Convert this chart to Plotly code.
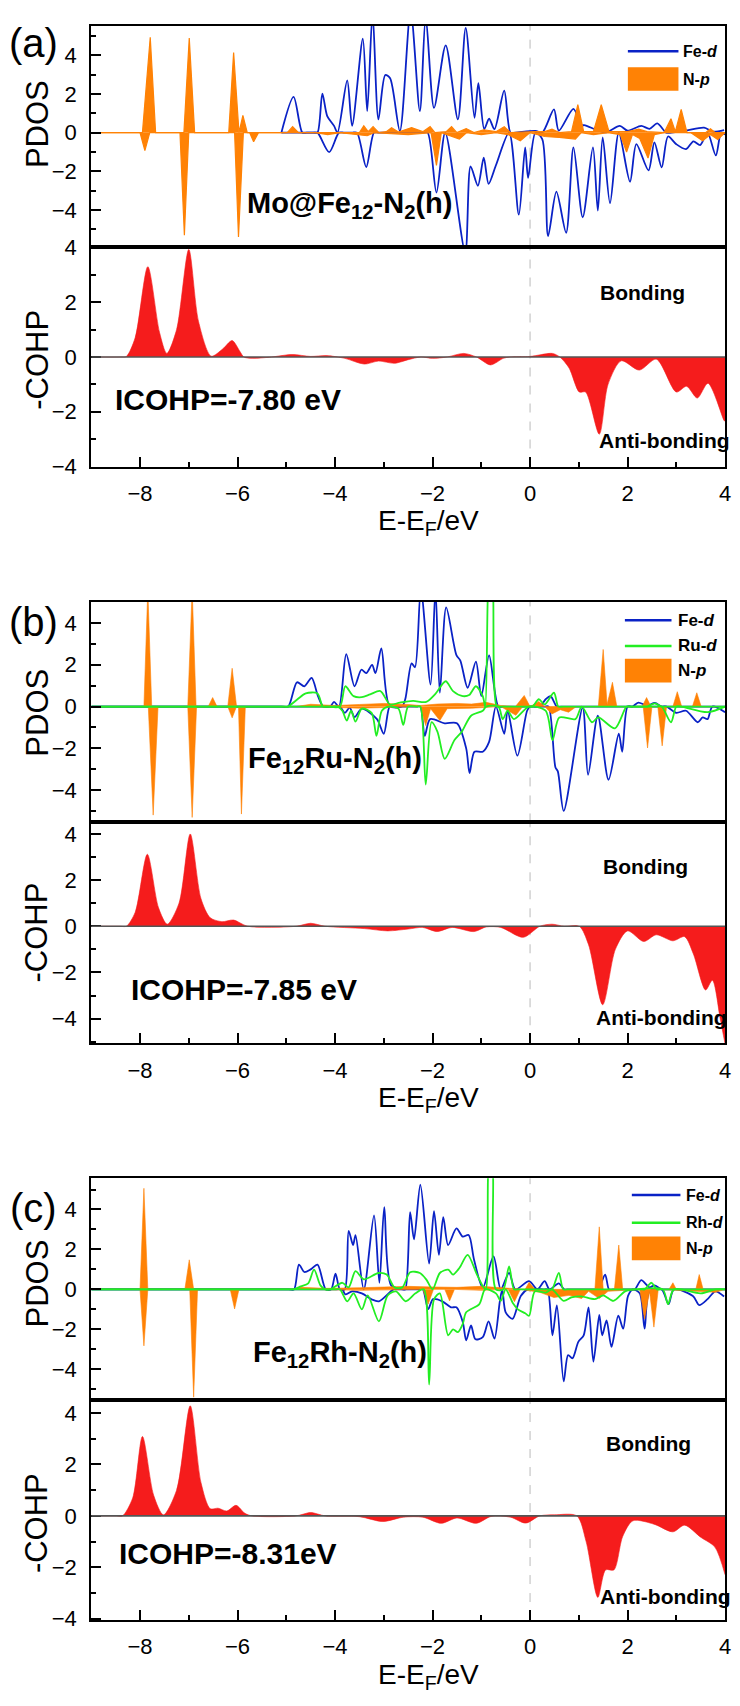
import plotly.graph_objects as go

W, H = 740, 1706
FONT = "Liberation Sans, Arial, sans-serif"
BLUE = "#0A22C6"
ORANGE = "#FF8205"
GREEN = "#22EE22"
RED = "#F51C1C"

# ---------------- data: panel (a) Mo@Fe12-N2(h) ----------------
a_fe_up_x = [-5.10,-4.85,-4.67,-4.58,-4.44,-4.36,-4.26,-4.16,-4.02,-3.95,-3.75,-3.65,-3.43,-3.34,-3.23,-3.11,-2.97,-2.87,-2.67,-2.45,-2.26,-2.14,-1.97,-1.73,-1.48,-1.32,-1.14,-1.06,-0.94,-0.84,-0.73,-0.53,-0.40,-0.30,0.11,0.25,0.49,0.59,0.89,1.05,1.13,1.54,1.84,2.00,2.28,2.45,2.61,2.79,2.90,3.20,3.57,3.75,3.98]
a_fe_up_y = [0,1.85,0,0,0,0,2.02,0.86,0.35,0,2.70,0.35,4.86,1.11,6.2,0.69,2.98,2.81,0.09,6.3,1.11,6.0,1.28,4.52,0.69,5.42,0.77,2.56,0.18,0.72,0.18,2.17,0.0,0.0,0.09,0,1.2,0.1,1.23,0.4,0.38,0.01,0.35,0.1,0.35,0.2,0.48,0,0,0.1,0.26,0.05,0.13]
a_fe_dn_x = [-5.10,-4.45,-4.36,-4.12,-3.92,-3.82,-3.65,-3.55,-3.36,-3.20,-3.10,-2.20,-2.10,-1.92,-1.74,-1.33,-1.22,-1.07,-0.95,-0.85,-0.70,-0.43,-0.23,-0.10,-0.04,0.11,0.25,0.37,0.54,0.74,0.89,1.08,1.29,1.39,1.49,1.64,1.82,2.05,2.18,2.43,2.55,2.70,2.83,3.00,3.20,3.35,3.49,3.64,3.81,3.92,4.00]
a_fe_dn_y = [0,0,0,-1.01,0,0,0,0,-1.78,0,0,0,0,-3.10,0,-6.2,-1.75,-2.75,-1.30,-2.65,-1.69,0,-4.24,-0.76,-2.34,0,-0.33,-5.35,-3.05,-5.18,-0.76,-4.38,-0.76,-4.04,-0.25,-3.65,0,-2.54,-0.59,-1.95,-0.5,-1.8,-0.2,-0.6,-0.85,-0.45,-0.64,0,-1.18,0,-0.1]
a_np_up_x = [-9,-7.95,-7.79,-7.68,-7.10,-6.99,-6.88,-6.18,-6.08,-5.97,-5.89,-5.80,-4.98,-4.87,-4.75,-3.50,-3.41,-3.32,-3.22,-3.10,-2.95,-2.84,-2.70,-2.43,-2.20,-2.05,-1.95,-1.72,-1.61,-1.50,-1.31,-1.15,-0.95,-0.70,-0.53,-0.40,0.10,0.30,0.45,0.60,0.85,0.98,1.10,1.30,1.46,1.62,2.00,2.23,2.40,2.75,2.89,2.98,3.10,3.22,3.60,3.70,3.80,4.00]
a_np_up_y = [0,0,4.94,0,0,4.89,0,0,4.14,0,0.89,0,0,0.31,0,0,0.35,0.05,0.31,0,0.05,0.25,0.03,0.26,0.05,0.31,0,0.05,0.31,0,0.21,0,0.15,0.05,0.31,0,0.05,0.05,0.18,0,0.05,1.45,0.05,0.05,1.45,0.05,0.05,0.18,0.05,0,0.72,0.05,1.2,0,0,0.2,0,0]
a_np_dn_x = [-9,-8.00,-7.90,-7.80,-7.18,-7.09,-7.00,-6.06,-5.98,-5.88,-5.75,-5.67,-5.57,-4.40,-4.15,-3.90,-3.34,-3.20,-2.50,-2.03,-1.92,-1.82,-1.45,-1.30,-1.00,-0.70,-0.45,-0.20,0.00,0.30,0.60,0.93,1.05,1.30,1.60,1.85,1.98,2.10,2.25,2.42,2.55,2.75,3.30,3.54,3.70,3.85,4.00]
a_np_dn_y = [0,0,-0.93,0,0,-5.31,0,0,-5.4,0,0,-0.47,0,0,-0.1,0,-0.16,0,-0.1,0,-1.69,0,-0.33,0,-0.1,0,-0.1,-0.42,0,-0.2,-0.25,-0.33,0,-0.1,0,-0.1,-1.01,-0.1,-0.3,-1.32,-0.1,0,0,-0.42,-0.1,-0.35,0]
a_cohp_x = [-9,-8.40,-8.28,-8.10,-7.84,-7.60,-7.45,-7.25,-7.00,-6.80,-6.54,-6.30,-6.11,-5.95,-5.87,-5.70,-5.30,-4.88,-4.50,-4.17,-3.80,-3.40,-3.11,-2.78,-2.50,-2.24,-2.00,-1.70,-1.36,-1.10,-0.81,-0.55,-0.41,0.00,0.46,0.61,0.80,1.01,1.14,1.42,1.60,1.87,2.24,2.59,3.00,3.21,3.43,3.65,3.98,4.00]
a_cohp_y = [0,0,0.02,0.7,3.30,0.9,0.13,1.0,3.93,1.3,0.03,0.3,0.60,0.2,0,-0.05,0,0.09,0.02,0.05,-0.05,-0.26,-0.15,-0.23,-0.1,0,-0.05,0,0.13,0,-0.29,-0.05,0,0.02,0.13,0,-0.4,-1.28,-1.28,-2.82,-1.0,-0.14,-0.48,-0.08,-1.28,-1.07,-1.50,-0.96,-2.32,-2.35]

# ---------------- data: panel (b) Fe12Ru-N2(h) ----------------
b_fe_up_x = [-9,-5.10,-4.96,-4.78,-4.63,-4.48,-4.35,-4.24,-4.10,-4.02,-3.92,-3.77,-3.60,-3.46,-3.36,-3.24,-3.17,-3.05,-2.88,-2.63,-2.56,-2.43,-2.36,-2.24,-2.04,-1.94,-1.85,-1.72,-1.51,-1.43,-1.28,-1.11,-1.00,-0.84,-0.65,-0.55,0.10,0.20,0.32,0.42,0.55,0.65,2.00,2.10,2.22,2.40,2.56,2.70,2.80,4.00]
b_fe_up_y = [0,0,0,1.16,0.97,1.37,0.5,0,0,0.22,0,2.51,0.97,1.76,1.60,1.99,1.60,2.78,0.03,0,0.35,2.07,1.88,5.6,1.05,5.6,0.66,4.74,2.46,2.20,0.90,2.15,0.50,2.45,0,0,0,0,0.35,0.5,0,0,0,0,0.19,0.05,0.17,0,0,0]
b_fe_dn_x = [-9,-4.00,-3.90,-3.80,-3.70,-3.60,-3.45,-3.14,-3.00,-2.88,-2.80,-2.32,-2.25,-2.16,-2.05,-1.75,-1.50,-1.31,-1.24,-1.14,-0.97,-0.84,-0.70,-0.53,-0.46,-0.26,-0.06,0.00,0.10,0.30,0.38,0.52,0.57,0.69,1.08,1.19,1.39,1.61,1.82,1.89,2.00,2.10,2.72,2.80,3.00,3.20,3.44,3.54,3.64,3.74,4.00]
b_fe_dn_y = [0,0,0,-0.3,-0.05,-0.5,-0.1,-0.6,-1.3,0,0,0,0,-1.4,-0.6,-0.8,-0.8,-2.0,-3.18,-2.16,-2.16,-1.69,0,-1.3,-0.2,-2.35,-0.2,0,0,0,0,-2.9,-3.1,-4.99,-0.05,-3.26,-0.44,-3.5,-1.3,-2.16,0,0,0,0,-0.3,-0.2,-0.75,-0.52,-0.6,0,-0.27]
b_ru_up_x = [-9,-5.10,-4.97,-4.77,-4.60,-4.36,-4.25,-4.15,-3.90,-3.79,-3.62,-3.45,-3.28,-3.07,-2.87,-2.67,-2.40,-2.13,-1.95,-1.73,-1.58,-1.38,-1.25,-1.11,-0.97,-0.92,-0.86,-0.81,-0.76,-0.68,-0.60,-0.02,0.05,0.18,0.30,0.49,0.58,0.68,2.30,2.40,2.56,2.70,2.80,4.00]
b_ru_up_y = [0,0,0,0.35,0.63,0.63,0,0,0,0.97,0.50,0.45,0.58,0.74,0.10,0.19,0.27,0.22,0.58,1.21,0.74,0.50,0.55,0.97,0.5,0,5.8,7.0,5.8,0,0,0,0,0.35,0.1,0.66,0,0,0,0,0.15,0,0,0]
b_ru_dn_x = [-9,-4.05,-3.95,-3.85,-3.76,-3.67,-3.58,-3.45,-3.25,-3.15,-3.04,-2.90,-2.70,-2.60,-2.50,-2.32,-2.25,-2.14,-2.02,-1.90,-1.75,-1.55,-1.40,-1.21,-0.97,-0.90,-0.65,-0.56,-0.46,-0.33,-0.02,0.32,0.46,0.60,0.93,1.06,1.27,1.40,1.74,1.98,2.06,2.62,2.70,2.89,3.00,3.10,3.64,4.00]
b_ru_dn_y = [0,0,0,-0.2,-0.67,-0.2,-0.72,-0.1,-0.3,-1.4,-0.2,0,-0.1,-0.88,0,0,0,-3.73,-0.75,-1.2,-2.5,-1.6,-1.2,-0.44,-0.2,0,0,-0.6,-0.2,-0.6,0,-0.2,-1.61,-0.52,-0.60,0,-0.75,-0.52,-1.04,0,0,0,0,-0.75,0,0,-0.27,0]
b_np_up_x = [-9,-7.92,-7.84,-7.76,-7.02,-6.93,-6.85,-6.60,-6.51,-6.42,-6.20,-6.11,-6.02,-4.80,-4.50,-4.00,-3.50,-3.00,-2.50,-2.25,-1.90,-1.50,-1.20,-0.90,-0.60,-0.30,-0.12,0.00,0.18,0.30,1.40,1.50,1.58,1.69,1.78,2.30,2.39,2.48,2.93,3.02,3.11,3.33,3.42,3.51,4.00]
b_np_up_y = [0,0,5.6,0,0,5.6,0,0,0.43,0,0,1.83,0,0,0.11,0.05,0.1,0.15,0.1,0.05,0.12,0.15,0.12,0.2,0.05,0,0.53,0,0.24,0,0,2.73,0.1,1.16,0,0,0.43,0,0,0.71,0,0,0.66,0,0]
b_np_dn_x = [-9,-7.83,-7.73,-7.63,-7.02,-6.93,-6.84,-6.20,-6.11,-6.02,-5.98,-5.92,-5.84,-4.50,-3.50,-3.00,-2.25,-2.14,-2.04,-1.85,-1.70,-1.20,-0.60,-0.29,-0.15,0.30,0.45,0.62,0.79,0.95,2.32,2.41,2.50,2.62,2.71,2.80,4.00]
b_np_dn_y = [0,0,-5.19,0,0,-5.30,0,0,-0.54,0,0,-5.14,0,0,-0.08,-0.05,0,-0.91,-0.1,-0.67,-0.1,-0.08,0,-0.42,0,0,-0.35,-0.15,-0.27,0,0,-1.98,0,0,-1.88,0,0]
b_cohp_x = [-9,-8.40,-8.28,-8.10,-7.85,-7.62,-7.44,-7.20,-6.97,-6.75,-6.56,-6.32,-6.08,-5.79,-4.80,-4.50,-4.20,-3.40,-2.92,-2.50,-2.20,-1.91,-1.60,-1.15,-0.90,-0.60,-0.14,0.20,0.45,0.70,1.01,1.20,1.49,1.75,2.00,2.33,2.59,2.93,3.17,3.35,3.60,3.74,3.90,4.00]
b_cohp_y = [0,0,0,0.6,3.12,0.8,0.09,1.0,4.0,1.2,0.37,0.2,0.27,0,0,0.13,0,-0.1,-0.2,-0.12,-0.05,-0.23,-0.05,-0.23,-0.03,-0.05,-0.48,0,0.09,0,0,-0.8,-3.40,-1.0,-0.2,-0.66,-0.37,-0.63,-0.45,-1.2,-2.76,-2.34,-4.0,-5.1]

# ---------------- data: panel (c) Fe12Rh-N2(h) ----------------
c_fe_up_x = [-9,-4.95,-4.84,-4.74,-4.63,-4.50,-4.36,-4.19,-4.08,-3.99,-3.90,-3.80,-3.72,-3.63,-3.58,-3.41,-3.20,-3.09,-2.99,-2.85,-2.62,-2.56,-2.46,-2.38,-2.25,-2.07,-1.97,-1.87,-1.78,-1.68,-1.51,-1.38,-1.26,-1.15,-0.97,-0.75,-0.60,-0.43,-0.30,-0.02,0.15,0.30,0.40,0.59,0.70,0.80,1.32,1.40,1.54,1.62,1.70,2.07,2.15,2.28,2.45,2.55,2.70,2.80,4.00]
c_fe_up_y = [0,0,0,1.24,0.87,1.0,1.24,0,0,0.79,0,0,2.93,2.22,2.72,0,3.71,0.33,4.12,0.2,0,0,3.87,2.5,5.24,1.29,3.92,1.73,3.62,2.22,3.05,2.64,2.72,1.5,0.08,1.65,0,0.83,0,0.41,0,0.41,0,0.3,0,0,0,0,0.74,0,0,0,0,0.46,0.1,0.2,0,0,0]
c_fe_dn_x = [-9,-3.95,-3.85,-3.79,-3.65,-3.45,-3.25,-3.10,-2.80,-2.72,-2.28,-2.20,-2.09,-1.99,-1.80,-1.62,-1.51,-1.38,-1.31,-1.21,-1.12,-0.97,-0.85,-0.73,-0.62,-0.57,-0.50,-0.36,-0.19,-0.05,0.30,0.36,0.46,0.55,0.69,0.78,0.87,0.99,1.10,1.20,1.30,1.42,1.48,1.57,1.67,1.81,1.91,2.01,2.11,2.25,2.35,2.45,2.70,2.84,2.95,3.34,3.47,3.64,3.80,3.98]
c_fe_dn_y = [0,0,0,-0.25,-0.1,-0.2,-0.5,-0.6,0,0,0,0,-0.99,-0.49,-0.6,-0.9,-0.9,-1.64,-2.55,-1.81,-2.5,-2.39,-1.6,-2.47,-0.6,0,-1.15,-1.48,-0.33,0,0,0,-2.3,-0.8,-4.61,-3.29,-3.45,-2.63,-2.3,-0.9,-3.62,-1.28,-2.3,-1.56,-2.88,-1.32,-1.97,-0.33,0,-0.2,-1.97,-0.1,0,-0.74,0,-0.33,-0.79,-0.49,-0.1,-0.36]
c_rh_up_x = [-9,-4.95,-4.85,-4.70,-4.55,-4.43,-4.30,-4.20,-4.10,-3.85,-3.72,-3.58,-3.41,-3.11,-2.94,-2.78,-2.62,-2.46,-2.26,-2.13,-2.00,-1.85,-1.68,-1.58,-1.45,-1.28,-1.10,-0.97,-0.91,-0.86,-0.81,-0.76,-0.70,-0.55,-0.43,-0.33,-0.25,0.37,0.45,0.59,0.68,0.76,2.27,2.35,2.49,2.60,2.68,4.00]
c_rh_up_y = [0,0,0,0.15,0.3,0.99,0.2,0,0,0.33,0.1,0.91,0.5,0.82,0.74,0.1,0.1,0.86,0.82,0.5,0,0.82,0.99,0.74,1.07,1.73,0.8,0.16,0,5.8,7.0,5.8,0,0,1.15,0,0,0,0,0.83,0,0,0,0,0.33,0,0,0]
c_rh_dn_x = [-9,-4.00,-3.90,-3.75,-3.62,-3.45,-3.33,-3.10,-2.92,-2.75,-2.55,-2.35,-2.18,-2.07,-1.97,-1.85,-1.68,-1.58,-1.48,-1.38,-1.31,-1.04,-0.92,-0.70,-0.60,-0.50,-0.35,-0.25,-0.10,-0.02,0.10,0.32,0.45,0.69,0.85,1.05,1.33,1.50,1.71,1.95,2.20,2.72,2.83,2.95,3.50,3.80,4.00]
c_rh_dn_y = [0,0,0,-0.6,-0.2,-1.0,-0.3,-1.6,-0.3,-0.1,-0.6,-0.2,0,-4.77,-0.5,-0.2,-2.3,-2.0,-2.14,-1.73,-1.15,-0.74,0,-0.2,-0.58,0,-0.7,-1.0,-1.2,-1.32,-0.1,-0.16,0,-0.58,-0.4,-0.35,-0.49,-0.3,-0.58,-0.1,0,0,-0.74,0,-0.2,0,0]
c_np_up_x = [-9,-8.00,-7.92,-7.84,-7.08,-6.99,-6.90,-4.85,-4.70,-4.20,-3.50,-3.00,-2.50,-2.00,-1.50,-1.00,-0.50,-0.10,-0.02,0.10,1.33,1.42,1.50,1.73,1.82,1.90,2.85,2.93,3.00,3.40,3.47,3.55,4.00]
c_np_up_y = [0,0,5.06,0,0,1.48,0,0,0.1,0.05,0.08,0.12,0.15,0.12,0.1,0.15,0.08,0,0.35,0,0,3.13,0,0,2.22,0,0,0.33,0,0,0.74,0,0]
c_np_dn_x = [-9,-8.00,-7.92,-7.84,-6.98,-6.90,-6.82,-6.15,-6.06,-5.97,-4.50,-3.50,-2.20,-2.09,-1.98,-1.75,-1.65,-1.55,-1.00,-0.45,-0.32,-0.20,0.20,0.49,0.80,1.06,1.20,1.42,1.60,2.25,2.35,2.45,2.54,2.63,3.80,4.00]
c_np_dn_y = [0,0,-2.83,0,0,-5.4,0,0,-0.98,0,0,-0.05,0,-0.74,0,0,-0.58,0,-0.05,0,-0.62,0,-0.15,-0.41,-0.3,-0.46,-0.1,-0.46,-0.1,0,-1.48,-0.1,-1.89,0,-0.15,0]
c_cohp_x = [-9,-8.48,-8.36,-8.15,-7.95,-7.72,-7.52,-7.25,-6.97,-6.75,-6.56,-6.40,-6.22,-6.03,-5.85,-5.70,-4.80,-4.50,-4.20,-3.50,-3.02,-2.60,-2.20,-1.82,-1.50,-1.10,-0.80,-0.40,-0.09,0.20,0.50,0.96,1.15,1.39,1.55,1.72,1.90,2.11,2.54,2.93,3.17,3.50,3.79,4.00]
c_cohp_y = [0,0,0,0.7,3.09,0.8,0.04,1.0,4.28,1.3,0.28,0.3,0.19,0.41,0.1,0,0,0.13,0,-0.03,-0.22,-0.05,-0.05,-0.29,-0.08,-0.29,-0.02,-0.05,-0.28,0,0.04,0,-1.0,-3.17,-2.1,-2.1,-0.8,-0.19,-0.32,-0.62,-0.36,-0.83,-1.21,-2.29]

x_ticks = [-8, -6, -4, -2, 0, 2, 4]
y_ticks = [-4, -2, 0, 2, 4]

panels = [
    dict(tag="(a)", name="Mo@Fe<sub>12</sub>-N<sub>2</sub>(h)", icohp="ICOHP=-7.80 eV", metal=None,
         fe_up=(a_fe_up_x, a_fe_up_y), fe_dn=(a_fe_dn_x, a_fe_dn_y),
         m_up=None, m_dn=None,
         np_up=(a_np_up_x, a_np_up_y), np_dn=(a_np_dn_x, a_np_dn_y),
         cohp=(a_cohp_x, a_cohp_y),
         pdos_px=(15, 239), cohp_px=(239, 462), pdos_range=[-5.9, 5.53], cohp_range=[-4.0, 4.03],
         tag_y=32, name_xy=(352, 197), icohp_xy=(230, 394), bond_xy=(648, 286), anti_xy=(670, 436),
         pdos_title_y=115, cohp_title_y=354, xtitle_y=519,
         leg=dict(x0=633, x1=684, tx=687, rows=[40.7, 69], fs=16)),
    dict(tag="(b)", name="Fe<sub>12</sub>Ru-N<sub>2</sub>(h)", icohp="ICOHP=-7.85 eV", metal="Ru",
         fe_up=(b_fe_up_x, b_fe_up_y), fe_dn=(b_fe_dn_x, b_fe_dn_y),
         m_up=(b_ru_up_x, b_ru_up_y), m_dn=(b_ru_dn_x, b_ru_dn_y),
         np_up=(b_np_up_x, b_np_up_y), np_dn=(b_np_dn_x, b_np_dn_y),
         cohp=(b_cohp_x, b_cohp_y),
         pdos_px=(599, 823), cohp_px=(823, 1047), pdos_range=[-5.54, 5.02], cohp_range=[-5.07, 4.5],
         tag_y=620, name_xy=(338, 760), icohp_xy=(246, 992), bond_xy=(651, 868), anti_xy=(667, 1021),
         pdos_title_y=712, cohp_title_y=935, xtitle_y=1104,
         leg=dict(x0=630, x1=677, tx=682, rows=[618, 644, 669], fs=17)),
    dict(tag="(c)", name="Fe<sub>12</sub>Rh-N<sub>2</sub>(h)", icohp="ICOHP=-8.31eV", metal="Rh",
         fe_up=(c_fe_up_x, c_fe_up_y), fe_dn=(c_fe_dn_x, c_fe_dn_y),
         m_up=(c_rh_up_x, c_rh_up_y), m_dn=(c_rh_dn_x, c_rh_dn_y),
         np_up=(c_np_up_x, c_np_up_y), np_dn=(c_np_dn_x, c_np_dn_y),
         cohp=(c_cohp_x, c_cohp_y),
         pdos_px=(1184, 1409), cohp_px=(1409, 1632), pdos_range=[-5.55, 5.56], cohp_range=[-4.05, 4.5],
         tag_y=1214, name_xy=(343, 1362), icohp_xy=(230, 1565), bond_xy=(654, 1453), anti_xy=(671, 1608),
         pdos_title_y=1291, cohp_title_y=1534, xtitle_y=1689,
         leg=dict(x0=637, x1=686, tx=690, rows=[1201, 1229, 1255], fs=16)),
]

XL, XR = 92, 731


def px_x(v):
    return v / W


def px_y(v):
    return 1 - v / H


def ax_id(n):
    return "" if n == 1 else str(n)


fig = go.Figure()
layout = dict(width=W, height=H, margin=dict(l=0, r=0, t=0, b=0),
              paper_bgcolor="white", plot_bgcolor="white", showlegend=False,
              font=dict(family=FONT, color="black"))
shapes = []
annotations = []

axis_common = dict(showline=True, linewidth=2, linecolor="black", mirror=True,
                   showgrid=False, zeroline=False)


def line_trace(xy, color, xa, ya, width=1.8):
    return go.Scatter(x=xy[0], y=xy[1], mode="lines", xaxis=xa, yaxis=ya,
                      line=dict(color=color, width=width, shape="spline", smoothing=0.8),
                      hoverinfo="skip")


def fill_trace(xy, color, xa, ya, width=0.8, shape="spline"):
    line = dict(color=color, width=width, shape=shape)
    if shape == "spline":
        line["smoothing"] = 0.8
    return go.Scatter(x=xy[0], y=xy[1], mode="lines", xaxis=xa, yaxis=ya, fill="tozeroy",
                      fillcolor=color, line=line, hoverinfo="skip")


for i, p in enumerate(panels):
    n1, n2 = 2 * i + 1, 2 * i + 2
    k1, k2 = ax_id(n1), ax_id(n2)
    xa1, ya1 = "x" + k1, "y" + k1
    xa2, ya2 = "x" + k2, "y" + k2
    # PDOS traces
    fig.add_trace(line_trace(p["fe_up"], BLUE, xa1, ya1))
    fig.add_trace(line_trace(p["fe_dn"], BLUE, xa1, ya1))
    if p["metal"] is None:
        fig.add_trace(fill_trace(p["np_up"], ORANGE, xa1, ya1, 1.2, "linear"))
        fig.add_trace(fill_trace(p["np_dn"], ORANGE, xa1, ya1, 1.2, "linear"))
    else:
        fig.add_trace(fill_trace(p["np_up"], ORANGE, xa1, ya1, 0.6, "linear"))
        fig.add_trace(fill_trace(p["np_dn"], ORANGE, xa1, ya1, 0.6, "linear"))
        fig.add_trace(line_trace(p["m_up"], GREEN, xa1, ya1))
        fig.add_trace(line_trace(p["m_dn"], GREEN, xa1, ya1))
    # COHP
    fig.add_trace(fill_trace(p["cohp"], RED, xa2, ya2, 0.6))

    pd0, pd1 = p["pdos_px"]
    cd0, cd1 = p["cohp_px"]
    xdom = [px_x(XL), px_x(XR)]
    tick_kw = dict(ticks="inside", ticklen=10, tickwidth=2, tickcolor="black",
                   minor=dict(ticks="inside", ticklen=5, tickwidth=1.5, dtick=1, tick0=0, tickcolor="black"),
                   tickfont=dict(size=22, family=FONT))
    layout["xaxis" + k1] = dict(axis_common, domain=xdom, range=[-9, 4], anchor=ya1,
                                showticklabels=False, ticks="")
    layout["yaxis" + k1] = dict(axis_common, domain=[px_y(pd1), px_y(pd0)], range=p["pdos_range"],
                                anchor=xa1, tickvals=y_ticks, ticklabelstandoff=8, **tick_kw)
    layout["xaxis" + k2] = dict(axis_common, domain=xdom, range=[-9, 4], anchor=ya2,
                                tickvals=x_ticks, ticklabelstandoff=6, **tick_kw)
    layout["yaxis" + k2] = dict(axis_common, domain=[px_y(cd1), px_y(cd0)], range=p["cohp_range"],
                                anchor=xa2, tickvals=y_ticks, ticklabelstandoff=8, **tick_kw)

    # dashed Fermi line and COHP zero line
    shapes.append(dict(type="line", xref=xa1, yref=ya1 + " domain", x0=0, x1=0, y0=0, y1=1, layer="below",
                       line=dict(color="#BBBBBB", width=1, dash="dash")))
    shapes.append(dict(type="line", xref=xa2, yref=ya2 + " domain", x0=0, x1=0, y0=0, y1=1, layer="below",
                       line=dict(color="#BBBBBB", width=1, dash="dash")))
    shapes.append(dict(type="line", xref=xa2 + " domain", yref=ya2, x0=0, x1=1, y0=0, y1=0,
                       line=dict(color="#555555", width=1.6)))

    # texts
    annotations.append(dict(text=p["tag"], x=px_x(34), y=px_y(p["tag_y"]), xref="paper", yref="paper",
                            showarrow=False, font=dict(size=40, family=FONT), xanchor="center", yanchor="middle"))
    annotations.append(dict(text="<b>" + p["name"] + "</b>", x=px_x(p["name_xy"][0]), y=px_y(p["name_xy"][1]),
                            xref="paper", yref="paper", showarrow=False, font=dict(size=29, family=FONT),
                            xanchor="center", yanchor="middle"))
    annotations.append(dict(text="<b>" + p["icohp"] + "</b>", x=px_x(p["icohp_xy"][0]), y=px_y(p["icohp_xy"][1]),
                            xref="paper", yref="paper", showarrow=False, font=dict(size=30, family=FONT),
                            xanchor="center", yanchor="middle"))
    annotations.append(dict(text="<b>Bonding</b>", x=px_x(p["bond_xy"][0]), y=px_y(p["bond_xy"][1]),
                            xref="paper", yref="paper", showarrow=False, font=dict(size=21, family=FONT),
                            xanchor="center", yanchor="middle"))
    annotations.append(dict(text="<b>Anti-bonding</b>", x=px_x(p["anti_xy"][0]), y=px_y(p["anti_xy"][1]),
                            xref="paper", yref="paper", showarrow=False, font=dict(size=21, family=FONT),
                            xanchor="center", yanchor="middle"))
    annotations.append(dict(text="PDOS", x=px_x(38), y=px_y(p["pdos_title_y"]), xref="paper", yref="paper",
                            showarrow=False, textangle=-90, font=dict(size=31, family=FONT),
                            xanchor="center", yanchor="middle"))
    annotations.append(dict(text="-COHP", x=px_x(37), y=px_y(p["cohp_title_y"]), xref="paper", yref="paper",
                            showarrow=False, textangle=-90, font=dict(size=31, family=FONT),
                            xanchor="center", yanchor="middle"))
    annotations.append(dict(text="E-E<sub>F</sub>/eV", x=px_x(432), y=px_y(p["xtitle_y"]), xref="paper",
                            yref="paper", showarrow=False, font=dict(size=28, family=FONT),
                            xanchor="center", yanchor="middle"))

    # legend
    lg = p["leg"]
    items = [("Fe-<i>d</i>", "line", BLUE)]
    if p["metal"] is not None:
        items.append((p["metal"] + "-<i>d</i>", "line", GREEN))
    items.append(("N-<i>p</i>", "box", ORANGE))
    for (label, kind, col), yy in zip(items, lg["rows"]):
        if kind == "line":
            shapes.append(dict(type="line", xref="paper", yref="paper", x0=px_x(lg["x0"]), x1=px_x(lg["x1"]),
                               y0=px_y(yy), y1=px_y(yy), line=dict(color=col, width=2.5)))
        else:
            shapes.append(dict(type="rect", xref="paper", yref="paper", x0=px_x(lg["x0"]), x1=px_x(lg["x1"]),
                               y0=px_y(yy - 12), y1=px_y(yy + 12), line=dict(width=0), fillcolor=col))
        annotations.append(dict(text="<b>" + label + "</b>", x=px_x(lg["tx"]), y=px_y(yy), xref="paper",
                                yref="paper", showarrow=False, font=dict(size=lg["fs"], family=FONT),
                                xanchor="left", yanchor="middle"))

layout["shapes"] = shapes
layout["annotations"] = annotations
fig.update_layout(**layout)
fig.write_html("out.html", config={"displayModeBar": False},
               post_script="document.body.style.margin='0';document.body.style.padding='0';"
                           "document.body.style.overflow='hidden';")
